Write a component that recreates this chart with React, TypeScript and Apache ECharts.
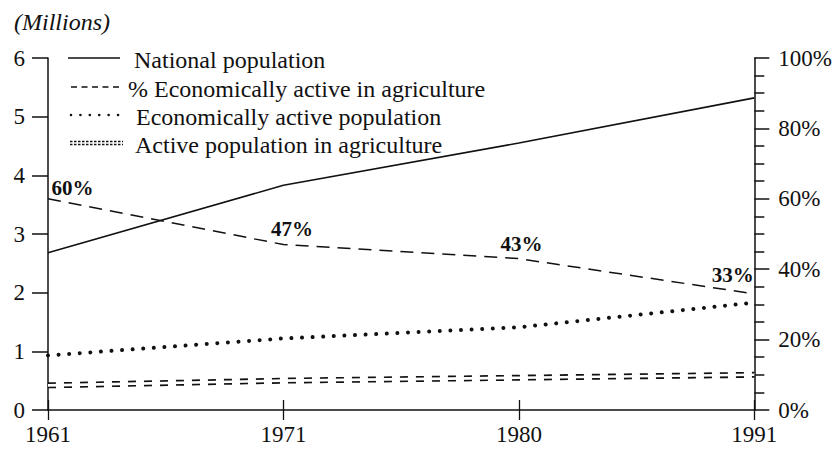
import React, { useEffect, useRef } from "react";
import * as echarts from "echarts";

const years = ["1961", "1971", "1980", "1991"];
const nationalPopulation = [2.68, 3.83, 4.55, 5.32];
const pctActiveInAgriculture = [60, 47, 43, 33];
const economicallyActive = [0.93, 1.22, 1.41, 1.83];
const activeInAgriculture = [0.42, 0.5, 0.55, 0.6];
const legendNames = [
  "National population",
  "% Economically active in agriculture",
  "Economically active population",
  "Active population in agriculture",
];
const unitTitle = "(Millions)";

const FONT = "'Liberation Serif', 'Times New Roman', serif";
const INK = "#111111";

// pixel offsets of the percentage labels relative to their points (style only)
const pctLabelOffsets = [
  [25, -10],
  [9, -15],
  [3, -14],
  [-21, -18],
];

const legendRows = [58, 87, 115, 143];
const legendTextX = [134, 128, 136, 135];

export default function App() {
  const ref = useRef<HTMLDivElement>(null);

  useEffect(() => {
    if (!ref.current) return;
    const chart = echarts.init(ref.current, null, { renderer: "svg" });

    const axisText = { color: INK, fontFamily: FONT, fontSize: 23 };

    const legendGraphics: any[] = [
      {
        type: "line",
        shape: { x1: 68, y1: legendRows[0], x2: 120, y2: legendRows[0] },
        style: { stroke: INK, lineWidth: 1.6 },
      },
      {
        type: "line",
        shape: { x1: 71, y1: legendRows[1], x2: 119, y2: legendRows[1] },
        style: { stroke: INK, lineWidth: 1.3, lineDash: [6, 4.5] },
      },
      {
        type: "line",
        shape: { x1: 71, y1: legendRows[2], x2: 118.1, y2: legendRows[2] },
        style: { stroke: INK, lineWidth: 2.6, lineDash: [0.01, 9.4], lineCap: "round" },
      },
      {
        type: "line",
        shape: { x1: 70, y1: legendRows[3], x2: 123, y2: legendRows[3] },
        style: { stroke: INK, lineWidth: 4.6, lineDash: [2.5, 1.5] },
      },
      {
        type: "line",
        shape: { x1: 69, y1: legendRows[3], x2: 124, y2: legendRows[3] },
        style: { stroke: "#fff", lineWidth: 1.5 },
      },
      ...legendNames.map((name, i) => ({
        type: "text",
        x: legendTextX[i],
        y: legendRows[i] + 2,
        style: {
          text: name,
          fill: INK,
          font: `24px ${FONT}`,
          verticalAlign: "middle",
          align: "left",
        },
      })),
    ];

    chart.setOption({
      animation: false,
      backgroundColor: "#ffffff",
      title: {
        text: unitTitle,
        left: 9,
        top: 5,
        textStyle: {
          fontFamily: FONT,
          fontStyle: "italic",
          fontWeight: "normal",
          fontSize: 24,
          color: INK,
        },
      },
      grid: { left: 48, right: 80, top: 58, bottom: 39, containLabel: false },
      xAxis: [
        {
          type: "category",
          data: years,
          boundaryGap: false,
          axisLine: { lineStyle: { color: INK, width: 1.5 } },
          axisTick: { show: true, length: 10, lineStyle: { color: INK, width: 1.3 } },
          axisLabel: { ...axisText, margin: 13 },
          splitLine: { show: false },
        },
        {
          type: "category",
          data: years,
          boundaryGap: false,
          position: "bottom",
          axisLine: { show: false },
          axisTick: { show: true, inside: true, length: 10, lineStyle: { color: INK, width: 1.3 } },
          axisLabel: { show: false },
          splitLine: { show: false },
        },
      ],
      yAxis: [
        {
          type: "value",
          position: "left",
          min: 0,
          max: 6,
          interval: 1,
          axisLine: { show: true, lineStyle: { color: INK, width: 1.5 } },
          axisTick: { show: true, length: 16, lineStyle: { color: INK, width: 1.5 } },
          axisLabel: { ...axisText, margin: 23 },
          splitLine: { show: false },
        },
        {
          type: "value",
          position: "right",
          min: 0,
          max: 100,
          interval: 20,
          axisLine: { show: true, lineStyle: { color: INK, width: 1.5 } },
          axisTick: { show: true, length: 15, lineStyle: { color: INK, width: 1.5 } },
          minorTick: { show: true, splitNumber: 4, length: 10, lineStyle: { color: INK, width: 1.5 } },
          axisLabel: { ...axisText, margin: 24, formatter: "{value}%" },
          splitLine: { show: false },
          minorSplitLine: { show: false },
        },
      ],
      series: [
        {
          name: legendNames[0],
          type: "line",
          xAxisIndex: 0,
          yAxisIndex: 0,
          data: nationalPopulation,
          symbol: "none",
          lineStyle: { color: INK, width: 1.6, type: "solid" },
          silent: true,
        },
        {
          name: legendNames[1],
          type: "line",
          xAxisIndex: 0,
          yAxisIndex: 1,
          data: pctActiveInAgriculture.map((v, i) => ({
            value: v,
            label: { position: pctLabelOffsets[i] },
          })),
          symbol: "circle",
          symbolSize: 1,
          showSymbol: true,
          itemStyle: { color: "rgba(0,0,0,0)" },
          lineStyle: { color: INK, width: 1.5, type: [13, 8] },
          label: {
            show: true,
            formatter: "{c}%",
            color: INK,
            fontFamily: FONT,
            fontWeight: "bold",
            fontSize: 21,
            align: "center",
            verticalAlign: "middle",
          },
          silent: true,
        },
        {
          name: legendNames[2],
          type: "line",
          xAxisIndex: 0,
          yAxisIndex: 0,
          data: economicallyActive,
          symbol: "none",
          lineStyle: { color: INK, width: 4, type: [0.01, 10.6], cap: "round" },
          silent: true,
        },
        {
          name: legendNames[3],
          type: "line",
          xAxisIndex: 0,
          yAxisIndex: 0,
          data: activeInAgriculture,
          symbol: "none",
          lineStyle: { color: INK, width: 6, type: [8, 8] },
          silent: true,
        },
        {
          name: legendNames[3] + " (inner)",
          type: "line",
          xAxisIndex: 0,
          yAxisIndex: 0,
          data: activeInAgriculture,
          symbol: "none",
          lineStyle: { color: "#ffffff", width: 2.6, type: "solid" },
          silent: true,
        },
      ],
      graphic: legendGraphics,
    });

    return () => chart.dispose();
  }, []);

  return <div ref={ref} style={{ width: 835, height: 449, position: "absolute", left: 0, top: 0 }} />;
}
